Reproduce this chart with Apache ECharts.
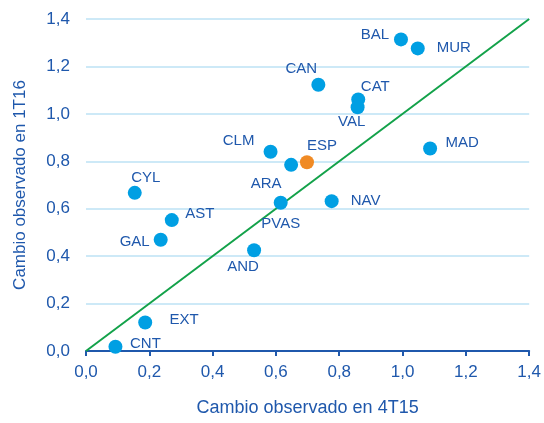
<!DOCTYPE html>
<html><head><meta charset="utf-8">
<script src="https://cdn.jsdelivr.net/npm/echarts@6/dist/echarts.min.js"></script>
<style>html,body{margin:0;padding:0;background:#fff}#c{width:544px;height:423px}</style>
</head><body><div id="c"></div>
<script>
const names = ['BAL','MUR','CAN','CAT','VAL','MAD','CLM','ARA','PVAS','NAV','CYL','AST','GAL','AND','EXT','CNT'];
const xVals = [0.995,1.048,0.734,0.860,0.858,1.087,0.583,0.648,0.615,0.776,0.154,0.271,0.236,0.531,0.187,0.093];
const yVals = [1.314,1.276,1.123,1.061,1.028,0.854,0.840,0.785,0.625,0.632,0.667,0.552,0.469,0.425,0.120,0.018];
const espName = 'ESP';
const espX = 0.698, espY = 0.796;
const diagonal = [[0,0],[1.4,1.4]];
const xTitle = 'Cambio observado en 4T15';
const yTitle = 'Cambio observado en 1T16';

// label placement (style, not data)
const labelOffsets = {
  BAL:[-26,-5], MUR:[36,-1], CAN:[-17,-16], CAT:[17,-13], VAL:[-6,15], MAD:[32,-6],
  CLM:[-32,-11], ARA:[-25,19], PVAS:[0,21], NAV:[34,0], CYL:[11,-15], AST:[28,-6],
  GAL:[-26,2], AND:[-11,17], EXT:[39,-3], CNT:[30,-3], ESP:[15,-16]
};

const blue = '#1F58AC';
const fmt = v => v.toFixed(1).replace('.', ',');
const lbl = n => ({show:true, formatter:n, position:'inside', offset:labelOffsets[n],
  color:blue, fontSize:15, fontFamily:'Liberation Sans, Arial, sans-serif'});

const pts = names.map((n,i)=>({value:[xVals[i],yVals[i]], name:n, label:lbl(n)}));

const chart = echarts.init(document.getElementById('c'));
chart.setOption({
  animation:false,
  textStyle:{fontFamily:'Liberation Sans, Arial, sans-serif'},
  grid:{left:86, right:10, top:19, bottom:72},
  xAxis:{type:'value', min:0, max:1.4, interval:0.2,
    name:xTitle, nameLocation:'middle', nameGap:48,
    nameTextStyle:{color:blue, fontSize:18},
    axisLine:{show:true, lineStyle:{color:blue, width:2}},
    axisTick:{show:true, length:5, lineStyle:{color:blue, width:2}},
    axisLabel:{color:blue, fontSize:17, margin:13, formatter:fmt},
    splitLine:{show:false}},
  yAxis:{type:'value', min:0, max:1.4, interval:0.2,
    name:yTitle, nameLocation:'middle', nameGap:57,
    nameTextStyle:{color:blue, fontSize:17},
    axisLine:{show:false}, axisTick:{show:false},
    axisLabel:{color:blue, fontSize:17, margin:16, formatter:fmt},
    splitLine:{show:true, lineStyle:{color:'#CDE9F7', width:2}}},
  series:[
    {type:'line', data:diagonal, symbol:'none', lineStyle:{color:'#13A24A', width:2}, z:1, silent:true},
    {type:'scatter', data:pts, symbolSize:14, itemStyle:{color:'#009FE3', opacity:1}, z:3},
    {type:'scatter', data:[{value:[espX,espY], name:espName, label:lbl(espName)}], symbolSize:14,
      itemStyle:{color:'#F08A24', opacity:1}, z:4}
  ]
});
</script></body></html>
